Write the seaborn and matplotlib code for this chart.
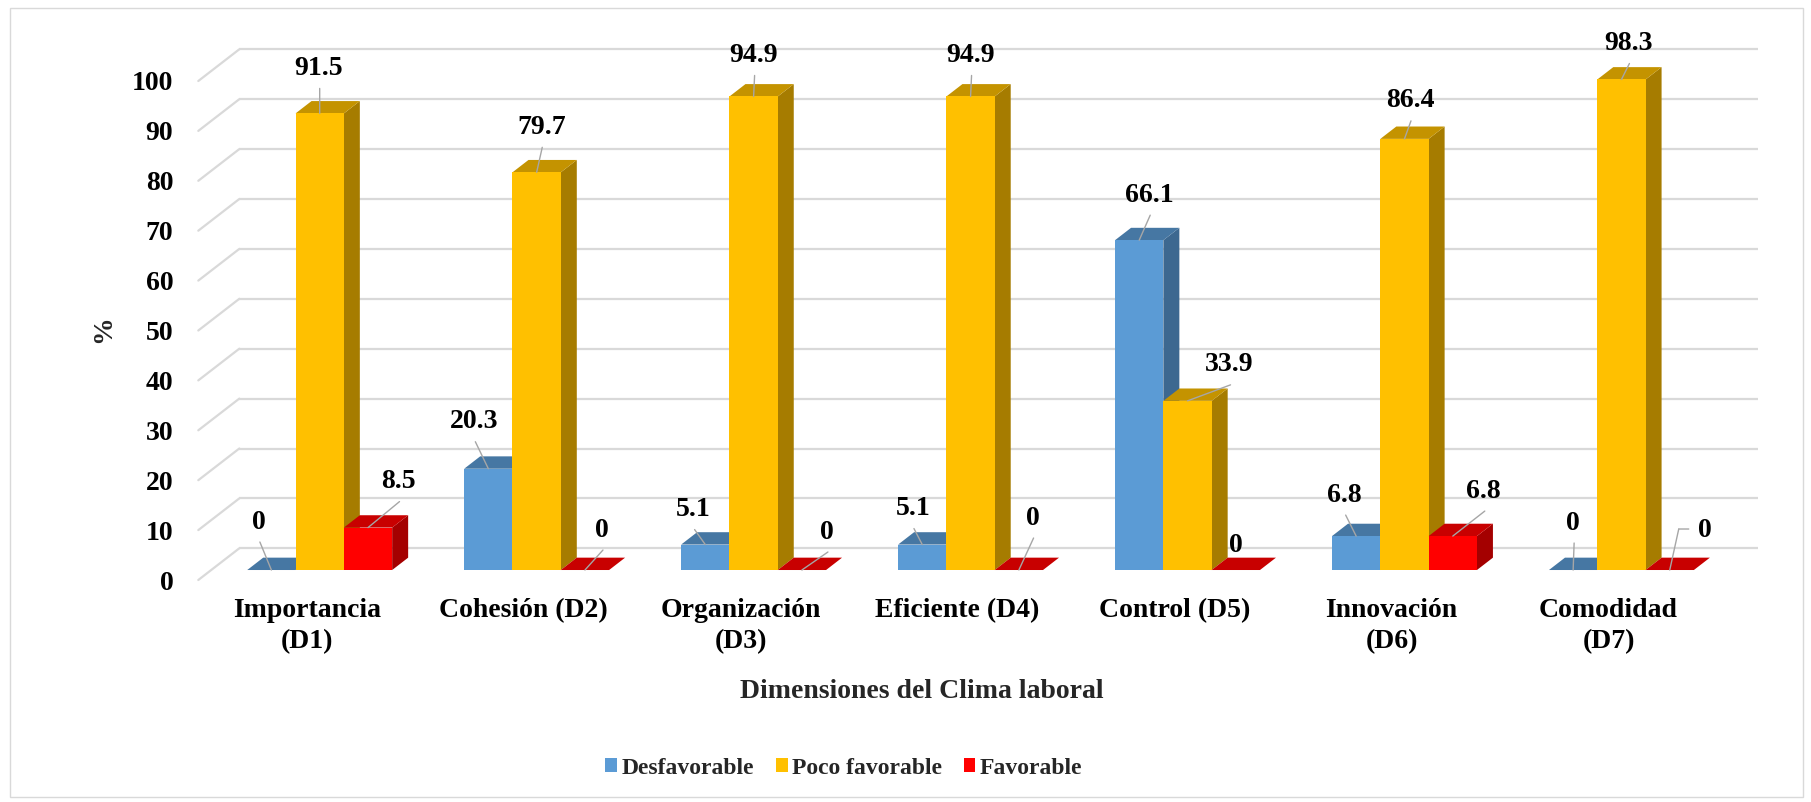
import matplotlib
matplotlib.use("Agg")
import matplotlib.pyplot as plt
import numpy as np
import pandas as pd
import seaborn as sns
from matplotlib.patches import Polygon, Rectangle
from matplotlib.transforms import ScaledTranslation

# ---- data -------------------------------------------------------------
categories = ["Importancia\n(D1)", "Cohesión (D2)", "Organización\n(D3)",
              "Eficiente (D4)", "Control (D5)", "Innovación\n(D6)",
              "Comodidad\n(D7)"]
series = ["Desfavorable", "Poco favorable", "Favorable"]
desfavorable = [0, 20.3, 5.1, 5.1, 66.1, 6.8, 0]
poco_favorable = [91.5, 79.7, 94.9, 94.9, 33.9, 86.4, 98.3]
favorable = [8.5, 0, 0, 0, 0, 6.8, 0]
y_ticks = list(range(0, 101, 10))
x_title = "Dimensiones del Clima laboral"
y_title = "%"

# ---- style ------------------------------------------------------------
front_colors = ["#5B9BD5", "#FFC000", "#FF0000"]
top_colors = ["#4677A3", "#C49300", "#C80000"]
side_colors = ["#3D6890", "#A67C00", "#A40000"]
GRID = "#D9D9D9"
LEADER = "#A6A6A6"

# data-label placement in pixels, relative to the top front edge of each bar
label_offsets = {
    "Desfavorable": [(-12.5, -48), (-14, -47), (-11.7, -35), (-9.3, -36),
                     (10, -45), (-11.5, -41), (0, -47)],
    "Poco favorable": [(-1, -45), (4.6, -45), (0, -41), (0, -41),
                       (42, -36), (5.5, -38), (7, -36)],
    "Favorable": [(30.5, -46), (17, -40), (25, -38), (13.7, -52),
                  (0, -25), (31, -45), (35, -40)],
}
elbow_leaders = {("Favorable", 6)}

W, H, DPI = 1811, 802, 100
DEPTH_PX = (41.0, 31.7)      # floor depth (front edge -> back wall), pixels
BAR_DEPTH0, BAR_DEPTH = 0.315, 0.39

sns.set_theme(style="white")
plt.rcParams["font.family"] = ["Liberation Serif", "DejaVu Serif"]
plt.rcParams["font.weight"] = "bold"

values = [desfavorable, poco_favorable, favorable]
df = pd.DataFrame({
    "Dimension": categories * len(series),
    "Nivel": np.repeat(series, len(categories)),
    "Porcentaje": desfavorable + poco_favorable + favorable,
})

fig = plt.figure(figsize=(W / DPI, H / DPI), dpi=DPI)
fig.patch.set_facecolor("white")
ax = fig.add_axes([198.3 / W, 1 - 580 / H, (1717 - 198.3) / W, (580 - 81) / H])

sns.barplot(data=df, x="Dimension", y="Porcentaje", hue="Nivel",
            order=categories, hue_order=series, palette=front_colors,
            width=0.668, gap=0, saturation=1, linewidth=0, errorbar=None,
            legend=False, ax=ax)
ax.set_xlim(-0.5, len(categories) - 0.5)
ax.set_ylim(0, 100)
ax.set_xlabel("")
ax.set_ylabel("")
ax.grid(False)
for s in ax.spines.values():
    s.set_visible(False)


def shift(d):
    return ScaledTranslation(d * DEPTH_PX[0] / DPI, d * DEPTH_PX[1] / DPI,
                             fig.dpi_scale_trans)


bbox = ax.get_window_extent()
px_x = bbox.width / (len(categories))
px_y = bbox.height / 100.0

# ---- back wall and side wall gridlines ----------------------------------
wall_tr = ax.transData + shift(1.0)
for v in y_ticks:
    ax.plot([-0.5, len(categories) - 0.5], [v, v], transform=wall_tr,
            color=GRID, lw=1.6, clip_on=False, zorder=1,
            solid_capstyle="butt")
    ax.plot([-0.5, -0.5 + DEPTH_PX[0] / px_x], [v, v + DEPTH_PX[1] / px_y],
            color=GRID, lw=1.6, clip_on=False, zorder=1)

# ---- 3-D faces of the bars ---------------------------------------------
bar_tr = ax.transData + shift(BAR_DEPTH0)
ddx = BAR_DEPTH * DEPTH_PX[0] / px_x
ddy = BAR_DEPTH * DEPTH_PX[1] / px_y

for p in list(ax.patches):
    x_l, w, h = p.get_x(), p.get_width(), p.get_height()
    x_r = x_l + w
    xc = x_l + w / 2
    cat = int(round(xc))
    j = int(round((xc - cat) / w)) + 1
    z = 3 + j * 0.3
    p.set_transform(bar_tr)
    p.set_clip_on(False)
    p.set_zorder(z + 0.2)
    side = Polygon([(x_r, 0), (x_r, h), (x_r + ddx, h + ddy), (x_r + ddx, ddy)],
                   closed=True, facecolor=side_colors[j], edgecolor="none",
                   transform=bar_tr, zorder=z, clip_on=False)
    top = Polygon([(x_l, h), (x_r, h), (x_r + ddx, h + ddy), (x_l + ddx, h + ddy)],
                  closed=True, facecolor=top_colors[j], edgecolor="none",
                  transform=bar_tr, zorder=z + 0.1, clip_on=False)
    ax.add_patch(side)
    ax.add_patch(top)

    # data label with leader line
    name = series[j]
    val = values[j][cat]
    dx, dy = label_offsets[name][cat]
    ax.annotate(f"{val:g}", xy=(xc, h), xycoords=bar_tr, xytext=(dx, -dy),
                textcoords="offset pixels", ha="center", va="center",
                fontsize=20, fontweight="bold", color="black",
                annotation_clip=False, zorder=10)
    lp = dict(arrowstyle="-", color=LEADER, lw=1.0, shrinkA=0, shrinkB=0)
    if (name, cat) in elbow_leaders:
        corner = (dx - 26, -dy + 1)
        ax.annotate("", xy=(xc, h),
                    xycoords=bar_tr + ScaledTranslation(corner[0] / DPI, corner[1] / DPI,
                                                        fig.dpi_scale_trans),
                    xytext=(10, 0), textcoords="offset pixels",
                    arrowprops=lp, annotation_clip=False, zorder=9)
        ax.annotate("", xy=(xc, h), xycoords=bar_tr, xytext=corner,
                    textcoords="offset pixels", arrowprops=lp,
                    annotation_clip=False, zorder=9)
    elif np.hypot(dx, dy + 20) > 10:
        ax.annotate("", xy=(xc, h), xycoords=bar_tr,
                    xytext=(dx + 1, -(dy + 20)), textcoords="offset pixels",
                    arrowprops=lp, annotation_clip=False, zorder=9)

# ---- axes text ----------------------------------------------------------
ax.set_yticks(y_ticks)
ax.tick_params(axis="both", length=0, labelsize=20, labelcolor="black")
ax.tick_params(axis="y", pad=18)
ax.tick_params(axis="x", pad=13)
for lab in ax.get_xticklabels() + ax.get_yticklabels():
    lab.set_fontweight("bold")
for lab in ax.get_xticklabels():
    lab.set_linespacing(1.3)

fig.text(922 / W, 1 - 691 / H, x_title, ha="center", va="center",
         fontsize=20, fontweight="bold")
fig.text(104 / W, 1 - 329 / H, y_title, ha="center", va="center",
         rotation=90, fontsize=20, fontweight="bold")

handles = [Rectangle((0, 0), 1, 1, facecolor=c, edgecolor="none") for c in front_colors]
fig.legend(handles, series, loc="center", bbox_to_anchor=(844 / W, 1 - 768 / H),
           ncol=3, frameon=False, prop={"size": 17, "weight": "bold"},
           handlelength=0.5, handleheight=0.5, handletextpad=0.2,
           columnspacing=0.9, borderaxespad=0)

# chart border
fig.add_artist(Rectangle((10 / W, 1 - 797 / H), (1803 - 10) / W, (797 - 8) / H,
                         transform=fig.transFigure, fill=False,
                         edgecolor=GRID, lw=1.0))

fig.savefig("out.png", dpi=DPI, facecolor="white")
